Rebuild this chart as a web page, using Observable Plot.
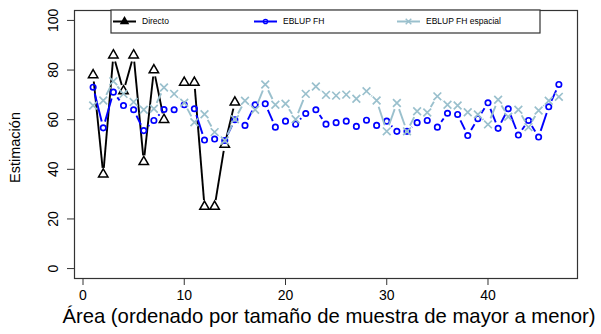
<!DOCTYPE html>
<html><head><meta charset="utf-8">
<script src="https://cdn.jsdelivr.net/npm/d3@7"></script>
<script src="https://cdn.jsdelivr.net/npm/@observablehq/plot@0.6"></script>
<style>body{margin:0;background:#fff;}</style>
</head><body><div id="chart"></div>
<script>
const areas = [1,2,3,4,5,6,7,8,9,10,11,12,13,14,15,16,17,18,19,20,21,22,23,24,25,26,27,28,29,30,31,32,33,34,35,36,37,38,39,40,41,42,43,44,45,46,47];
const directo = [78,38,86,71.5,86,43,80,60,null,75,75,25,25,50,67];
const eblupFH = [73.1,56.7,71.1,65.7,64.0,55.6,59.7,64.1,64.0,66.0,64.4,51.8,52.2,51.6,60.0,57.7,66.0,66.4,57.0,59.4,58.2,62.5,64.0,58.2,58.8,59.4,57.3,59.8,57.7,59.4,55.3,55.3,58.8,59.7,57.0,62.6,62.1,53.6,60.4,66.8,56.5,64.4,53.8,59.7,53.0,65.2,74.2];
const eblupEsp = [65.7,67.7,75.5,70.4,67.1,64.0,64.4,73.0,70.4,66.8,59.0,62.2,55.0,51.6,60.2,67.6,64.0,74.2,66.0,66.4,60.2,70.4,73.4,70.0,69.7,70.1,68.4,71.5,67.7,55.3,66.7,55.3,63.4,62.9,69.4,66.0,65.7,63.0,62.1,58.1,68.0,61.2,64.0,57.0,63.7,67.6,69.2];
const xTicks = [0,10,20,30,40];
const yTicks = [0,20,40,60,80,100];
const seriesNames = ["Directo","EBLUP FH","EBLUP FH espacial"];
const seriesColors = ["#000000","#0000ff","#9ac0cd"];
const xTitle = "Área (ordenado por tamaño de muestra de mayor a menor)";
const yTitle = "Estimación";

// layout
const W = 601, H = 334, mL = 74, mR = 24, mT = 10, mB = 56;
const xDom = [-0.84, 48.84], yDom = [-4, 104];
const kx = (W - mL - mR) / (xDom[1] - xDom[0]);
const ky = (H - mT - mB) / (yDom[1] - yDom[0]);
const gap = 6.5; // px gap around points (R type = "b")

function toPoints(vals){ return vals.map((v,i)=>({x: areas[i], y: v})).filter(d=>d.y!=null); }
function toSegs(vals){
  const s = [];
  for (let i = 0; i < vals.length - 1; i++) {
    if (vals[i] == null || vals[i+1] == null) continue;
    const x1 = areas[i], y1 = vals[i], x2 = areas[i+1], y2 = vals[i+1];
    const px = (x2 - x1) * kx, py = (y2 - y1) * ky, L = Math.hypot(px, py);
    if (L <= 2 * gap) continue;
    const f = gap / L;
    s.push({x1: x1 + (x2 - x1) * f, y1: y1 + (y2 - y1) * f, x2: x2 - (x2 - x1) * f, y2: y2 - (y2 - y1) * f});
  }
  return s;
}
function seg(vals, color){
  return Plot.link(toSegs(vals), {x1:"x1",y1:"y1",x2:"x2",y2:"y2",stroke:color,strokeWidth:1.9,strokeLinecap:"butt"});
}

const plot = Plot.plot({
  width: W, height: H,
  marginLeft: mL, marginRight: mR, marginTop: mT, marginBottom: mB,
  x: {domain: xDom},
  y: {domain: yDom},
  style: {fontFamily: "'Liberation Sans', Arial, sans-serif", fontSize: "14px", background: "white", color: "#000"},
  marks: [
    Plot.frame({stroke: "#333", strokeWidth: 1.2}),
    Plot.axisX({ticks: xTicks, tickSize: 7, tickPadding: 5, label: null, stroke: "#333"}),
    Plot.axisY({ticks: yTicks, tickSize: 7, tickFormat: () => "", label: null, stroke: "#333"}),
    Plot.text(yTicks, {y: d => d, text: d => String(d), frameAnchor: "left", dx: -17, rotate: -90, lineAnchor: "bottom", textAnchor: "middle", fontSize: 14}),
    Plot.text([xTitle], {frameAnchor: "bottom", dy: 44, dx: 3, fontSize: 20.3, textAnchor: "middle", text: d => d}),
    Plot.text([yTitle], {frameAnchor: "left", dx: -59, dy: 3, rotate: -90, fontSize: 14.5, textAnchor: "middle", text: d => d}),
    seg(directo, seriesColors[0]),
    Plot.dot(toPoints(directo), {x:"x", y:"y", symbol:"triangle", r:3.5, stroke: seriesColors[0], fill:"none", strokeWidth:1.5}),
    seg(eblupFH, seriesColors[1]),
    Plot.dot(toPoints(eblupFH), {x:"x", y:"y", symbol:"circle", r:2.7, stroke: seriesColors[1], fill:"none", strokeWidth:1.7}),
    seg(eblupEsp, seriesColors[2]),
    Plot.dot(toPoints(eblupEsp), {x:"x", y:"y", symbol:"times", r:3.6, stroke: seriesColors[2], fill:"none", strokeWidth:1.7})
  ]
});

// legend (R-style box at top of plotting region)
const svg = d3.select(plot);
const lg = svg.append("g").attr("font-family", "'Liberation Sans', Arial, sans-serif").attr("text-anchor", "start");
lg.append("rect").attr("x", 111).attr("y", 10).attr("width", 429).attr("height", 23).attr("fill", "white").attr("stroke", "#333").attr("stroke-width", 1.2);
const legX = [113, 254, 397];
const syms = [d3.symbolTriangle, d3.symbolCircle, d3.symbolTimes];
const symSize = [22, 14, 22];
seriesNames.forEach((name, i) => {
  const x0 = legX[i], yc = 21.5;
  lg.append("line").attr("x1", x0).attr("x2", x0 + 23).attr("y1", yc).attr("y2", yc).attr("stroke", seriesColors[i]).attr("stroke-width", 2);
  lg.append("path").attr("d", d3.symbol(syms[i], symSize[i])()).attr("transform", `translate(${x0 + 11.5},${yc})`)
    .attr("fill", i === 0 ? "#000" : "none").attr("stroke", seriesColors[i]).attr("stroke-width", 1.4);
  lg.append("text").attr("x", x0 + 29).attr("y", yc).attr("dy", "0.35em").attr("font-size", 8.5).attr("text-anchor", "start").attr("fill", "#000").text(name);
});

document.getElementById("chart").appendChild(plot);
</script>
</body></html>
